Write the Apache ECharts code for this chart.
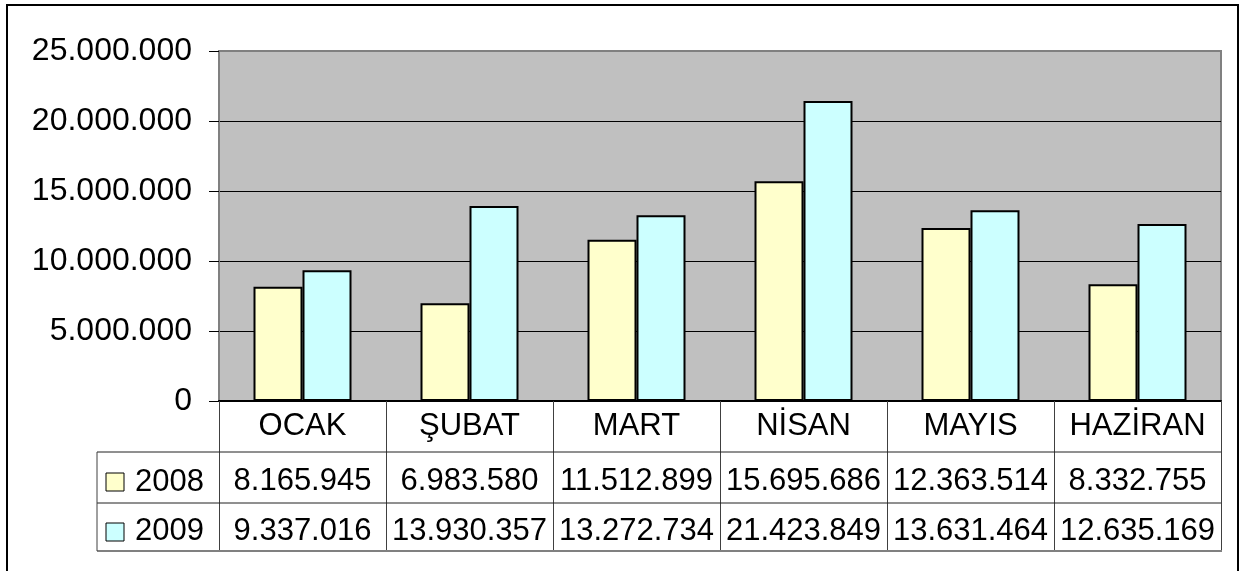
<!DOCTYPE html>
<html>
<head>
<meta charset="utf-8">
<script src="https://cdn.jsdelivr.net/npm/echarts@6/dist/echarts.min.js"></script>
<style>
html,body{margin:0;padding:0;background:#fff;}
#c{width:1240px;height:571px;}
</style>
</head>
<body>
<div id="c"></div>
<script>
var categories = ['OCAK', 'ŞUBAT', 'MART', 'NİSAN', 'MAYIS', 'HAZİRAN'];
var seriesNames = ['2008', '2009'];
var values2008 = [8165945, 6983580, 11512899, 15695686, 12363514, 8332755];
var values2009 = [9337016, 13930357, 13272734, 21423849, 13631464, 12635169];
var yTicks = [0, 5000000, 10000000, 15000000, 20000000, 25000000];

var COL2008 = '#FFFFCC', COL2009 = '#CCFFFF';
var FONT = 'Liberation Sans, Arial, sans-serif';
var FS = 31;

function fmt(v) {
  return String(v).replace(/\B(?=(\d{3})+(?!\d))/g, '.');
}

var chart = echarts.init(document.getElementById('c'), null, {renderer: 'canvas'});

var gridL = 219, gridT = 51, gridR = 1221, gridB = 401;
var row1 = 452, row2 = 503, row3 = 551, legL = 97;

var option = {
  backgroundColor: '#fff',
  animation: false,
  grid: {
    left: gridL, top: gridT, width: gridR - gridL, height: gridB - gridT,
    show: true, backgroundColor: '#C0C0C0', borderColor: '#808080', borderWidth: 2,
    containLabel: false
  },
  xAxis: {
    type: 'category',
    data: categories,
    axisLine: {show: true, lineStyle: {color: '#000', width: 2}},
    axisTick: {show: true, length: row3 - gridB, lineStyle: {color: '#404040', width: 1}},
    axisLabel: {
      interval: 0, margin: 0,
      fontFamily: FONT, fontSize: FS, color: '#000',
      formatter: function (v, i) {
        return '{h|' + v + '}\n{a|' + fmt(values2008[i]) + '}\n{b|' + fmt(values2009[i]) + '}';
      },
      rich: {
        h: {fontFamily: FONT, fontSize: FS, lineHeight: 50, color: '#000'},
        a: {fontFamily: FONT, fontSize: FS, lineHeight: 60, color: '#000'},
        b: {fontFamily: FONT, fontSize: FS, lineHeight: 40, color: '#000'}
      }
    },
    splitLine: {show: false}
  },
  yAxis: {
    type: 'value',
    min: yTicks[0], max: yTicks[yTicks.length - 1], interval: yTicks[1] - yTicks[0],
    axisLine: {show: true, lineStyle: {color: '#808080', width: 2}},
    axisTick: {show: true, length: 10, lineStyle: {color: '#000', width: 1}},
    axisLabel: {
      margin: 27, fontFamily: FONT, fontSize: 32, color: '#000',
      formatter: function (v) { return fmt(v); }
    },
    splitLine: {show: true, showMaxLine: false, showMinLine: false, lineStyle: {color: '#000', width: 1}}
  },
  series: [
    {
      name: seriesNames[0], type: 'bar', data: values2008,
      barWidth: 49, barGap: '0%',
      itemStyle: {color: COL2008, borderColor: '#000', borderWidth: 2}
    },
    {
      name: seriesNames[1], type: 'bar', data: values2009,
      barWidth: 49, barGap: '0%',
      itemStyle: {color: COL2009, borderColor: '#000', borderWidth: 2}
    }
  ],
  graphic: [
    {type: 'rect', shape: {x: 7, y: 5, width: 1231, height: 620}, style: {fill: 'none', stroke: '#000', lineWidth: 2}, z: 100},
    {type: 'line', shape: {x1: legL, y1: row1, x2: gridR, y2: row1}, style: {stroke: '#202020', lineWidth: 1}, z: 50},
    {type: 'line', shape: {x1: legL, y1: row2, x2: gridR, y2: row2}, style: {stroke: '#202020', lineWidth: 1}, z: 50},
    {type: 'line', shape: {x1: legL, y1: row3, x2: gridR + 1, y2: row3}, style: {stroke: '#808080', lineWidth: 2}, z: 50},
    {type: 'line', shape: {x1: legL, y1: row1, x2: legL, y2: row3}, style: {stroke: '#404040', lineWidth: 1}, z: 50},
    {type: 'rect', shape: {x: 106, y: 473, width: 18, height: 18}, style: {fill: COL2008, stroke: '#000', lineWidth: 1}, z: 50},
    {type: 'rect', shape: {x: 106, y: 523, width: 18, height: 18}, style: {fill: COL2009, stroke: '#000', lineWidth: 1}, z: 50},
    {type: 'text', x: 135, y: 482, style: {text: seriesNames[0], font: FS + 'px ' + FONT, fill: '#000', textVerticalAlign: 'middle', verticalAlign: 'middle'}, z: 50},
    {type: 'text', x: 135, y: 531, style: {text: seriesNames[1], font: FS + 'px ' + FONT, fill: '#000', textVerticalAlign: 'middle', verticalAlign: 'middle'}, z: 50}
  ]
};
chart.setOption(option);
</script>
</body>
</html>
